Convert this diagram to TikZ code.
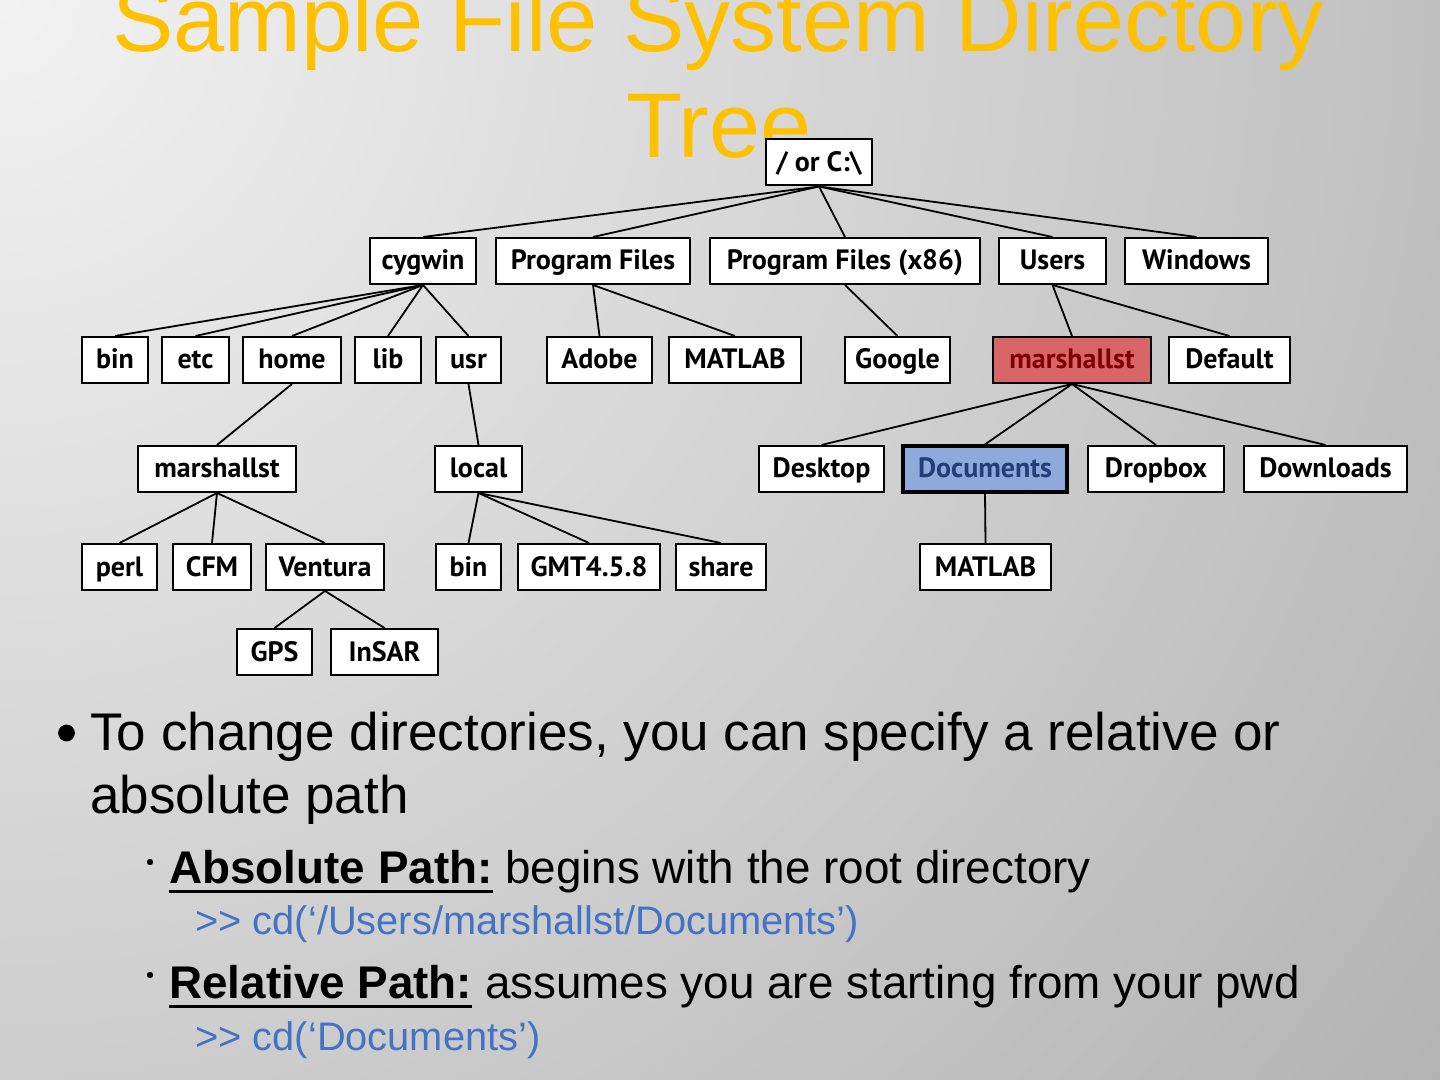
\documentclass[tikz,border=0pt]{standalone}
\usepackage{fontspec}
\setmainfont{Liberation Sans}
\newfontfamily\treefont{PT Sans}
\definecolor{titlecol}{RGB}{255,192,0}
\definecolor{codecol}{RGB}{68,114,196}
\definecolor{redfill}{RGB}{217,102,102}
\definecolor{redtext}{RGB}{128,0,0}
\definecolor{bluefill}{RGB}{142,169,219}
\definecolor{bluetext}{RGB}{35,62,120}
\definecolor{bgA}{gray}{0.95}
\definecolor{bgB}{gray}{0.70}
\definecolor{bgC}{gray}{0.56}
\pgfdeclareradialshading{bgshade}{\pgfpoint{0bp}{0bp}}{color(0bp)=(bgA); color(24bp)=(bgB); color(48bp)=(bgC); color(50bp)=(bgC)}
\newcommand\myul[1]{\setbox0\hbox{#1}\rlap{\rule[-5pt]{\wd0}{1.5pt}}\box0\relax}
\begin{document}
\begin{tikzpicture}[x=0.5pt,y=-0.5pt,
  dirbox/.style={draw=black, line width=1pt, fill=white, minimum height=23pt, inner xsep=0pt, inner ysep=0pt,
    text height=12pt, text depth=3pt,
    font=\treefont\bfseries\fontsize{14}{16}\selectfont, text=black},
  redbox/.style={dirbox, fill=redfill, text=redtext},
  bluebox/.style={dirbox, fill=bluefill, text=bluetext, line width=1.6pt},
  link/.style={draw=black, line width=0.9pt},
  titletext/.style={anchor=base, inner sep=0pt, text=titlecol, font=\fontsize{46}{50}\selectfont},
  bodytext/.style={anchor=base west, inner sep=0pt, text=black, font=\fontsize{26.5}{30}\selectfont},
  subtext/.style={anchor=base west, inner sep=0pt, text=black, font=\fontsize{22.9}{27}\selectfont},
  codetext/.style={anchor=base west, inner sep=0pt, text=codecol, font=\fontsize{19.9}{24}\selectfont}]
\useasboundingbox (0,0) rectangle (1440,1080);
\begin{scope}
  \clip (0,0) rectangle (1440,1080);
  \shade[shading=bgshade] (0,0) circle[radius=950pt];
\end{scope}

% title
\node[titletext] (title1) at (718,52) {Sample File System Directory};
\node[titletext] (title2) at (719,158) {Tree};

% tree nodes
\node[dirbox, minimum width=53pt] (root) at (819,162.5) {/ or C:\textbackslash};

\node[dirbox, minimum width=53pt]  (cygwin)  at (423,261) {cygwin};
\node[dirbox, minimum width=97pt]  (pf)      at (593,261) {Program Files};
\node[dirbox, minimum width=135pt] (pfx)     at (845,261) {Program Files (x86)};
\node[dirbox, minimum width=53.5pt] (users)  at (1052.5,261) {Users};
\node[dirbox, minimum width=71.5pt] (windows) at (1196.5,261) {Windows};

\node[dirbox, minimum width=33pt]  (bin1)    at (115,360) {bin};
\node[dirbox, minimum width=33.5pt] (etc)    at (195.5,360) {etc};
\node[dirbox, minimum width=49pt]  (home)    at (292,360) {home};
\node[dirbox, minimum width=33pt]  (lib)     at (388,360) {lib};
\node[dirbox, minimum width=32.5pt] (usr)    at (468.5,360) {usr};
\node[dirbox, minimum width=52.5pt] (adobe)  at (599.5,360) {Adobe};
\node[dirbox, minimum width=66pt]  (matlab1) at (735,360) {MATLAB};
\node[dirbox, minimum width=52.5pt] (google) at (897.5,360) {Google};
\node[redbox, minimum width=79pt]  (marsh1)  at (1072,360) {marshallst};
\node[dirbox, minimum width=60.5pt] (default) at (1229.5,360) {Default};

\node[dirbox, minimum width=79pt]  (marsh2)  at (217,469) {marshallst};
\node[dirbox, minimum width=43.5pt] (local)  at (478.5,469) {local};
\node[dirbox, minimum width=62.5pt] (desktop) at (821.5,469) {Desktop};
\node[bluebox, minimum width=82pt] (documents) at (985,469) {Documents};
\node[dirbox, minimum width=68pt]  (dropbox) at (1156,469) {Dropbox};
\node[dirbox, minimum width=81.5pt] (downloads) at (1325.5,469) {Downloads};

\node[dirbox, minimum width=37.5pt] (perl)   at (119.5,567) {perl};
\node[dirbox, minimum width=39pt]  (cfm)     at (212,567) {CFM};
\node[dirbox, minimum width=59pt]  (ventura) at (325,567) {Ventura};
\node[dirbox, minimum width=32.5pt] (bin2)   at (468.5,567) {bin};
\node[dirbox, minimum width=71pt]  (gmt)     at (589,567) {GMT4.5.8};
\node[dirbox, minimum width=45pt]  (share)   at (721,567) {share};
\node[dirbox, minimum width=65.5pt] (matlab2) at (985.5,567) {MATLAB};

\node[dirbox, minimum width=37.5pt] (gps)    at (274.5,652) {GPS};
\node[dirbox, minimum width=53.5pt] (insar)  at (384.5,652) {InSAR};

% connectors
\foreach \c in {cygwin,pf,pfx,users,windows} \draw[link] (root.south) -- (\c.north);
\foreach \c in {bin1,etc,home,lib,usr} \draw[link] (cygwin.south) -- (\c.north);
\foreach \c in {adobe,matlab1} \draw[link] (pf.south) -- (\c.north);
\draw[link] (pfx.south) -- (google.north);
\foreach \c in {marsh1,default} \draw[link] (users.south) -- (\c.north);
\draw[link] (home.south) -- (marsh2.north);
\draw[link] (usr.south) -- (local.north);
\foreach \c in {desktop,documents,dropbox,downloads} \draw[link] (marsh1.south) -- (\c.north);
\foreach \c in {perl,cfm,ventura} \draw[link] (marsh2.south) -- (\c.north);
\foreach \c in {bin2,gmt,share} \draw[link] (local.south) -- (\c.north);
\draw[link] (documents.south) -- (matlab2.north);
\foreach \c in {gps,insar} \draw[link] (ventura.south) -- (\c.north);

% body text
\fill[black] (66.5,733) circle[radius=4.2pt];
\node[bodytext] (line1) at (90,750) {To change directories, you can specify a relative or};
\node[bodytext] (line2) at (90,813) {absolute path};
\fill[black] (150,862) circle[radius=1.6pt];
\node[subtext] (abs) at (169,883) {\myul{\bfseries Absolute Path:} begins with the root directory};
\node[codetext] (code1) at (195,934) {>{}> cd(‘/Users/marshallst/Documents’)};
\fill[black] (150,975) circle[radius=1.6pt];
\node[subtext] (rel) at (169,998) {\myul{\bfseries Relative Path:} assumes you are starting from your pwd};
\node[codetext] (code2) at (195,1050) {>{}> cd(‘Documents’)};
\end{tikzpicture}
\end{document}
